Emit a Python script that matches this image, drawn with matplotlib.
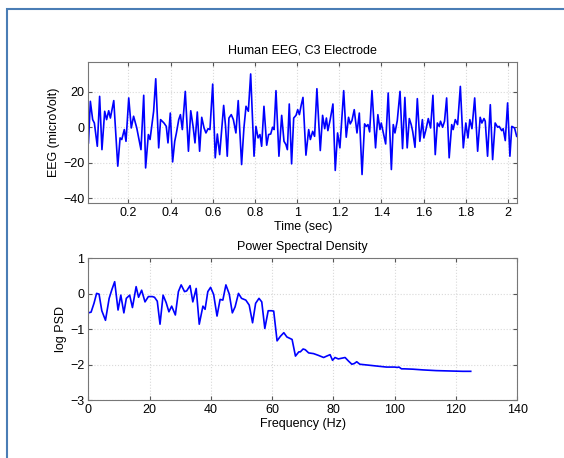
import matplotlib
matplotlib.use("Agg")
import matplotlib.pyplot as plt
from matplotlib.patches import Rectangle

# EEG trace, C3 electrode (time in s, amplitude in microvolt)
eeg_time = [
    0.011, 0.020, 0.031, 0.039, 0.053, 0.064, 0.075, 0.088, 0.097, 0.107,
    0.115, 0.131, 0.150, 0.161, 0.169, 0.181, 0.189, 0.202, 0.214, 0.225,
    0.240, 0.260, 0.273, 0.282, 0.295, 0.303, 0.320, 0.330, 0.344, 0.353,
    0.369, 0.380, 0.388, 0.399, 0.410, 0.420, 0.428, 0.439, 0.447, 0.456,
    0.470, 0.485, 0.496, 0.507, 0.516, 0.527, 0.538, 0.548, 0.559, 0.568,
    0.578, 0.587, 0.600, 0.612, 0.622, 0.633, 0.652, 0.661, 0.669, 0.677,
    0.688, 0.698, 0.710, 0.721, 0.737, 0.748, 0.758, 0.769, 0.780, 0.796,
    0.805, 0.815, 0.824, 0.832, 0.843, 0.856, 0.865, 0.875, 0.884, 0.891,
    0.900, 0.914, 0.927, 0.938, 0.947, 0.954, 0.963, 0.974, 0.984, 0.995,
    1.003, 1.011, 1.020, 1.028, 1.042, 1.055, 1.063, 1.074, 1.083, 1.094,
    1.110, 1.121, 1.131, 1.139, 1.146, 1.157, 1.170, 1.181, 1.192, 1.203,
    1.221, 1.233, 1.244, 1.252, 1.260, 1.271, 1.284, 1.295, 1.308, 1.320,
    1.328, 1.336, 1.344, 1.355, 1.372, 1.383, 1.393, 1.399, 1.409, 1.420,
    1.432, 1.447, 1.456, 1.464, 1.475, 1.488, 1.500, 1.511, 1.522, 1.532,
    1.541, 1.548, 1.559, 1.570, 1.582, 1.594, 1.601, 1.611, 1.622, 1.633,
    1.644, 1.655, 1.665, 1.674, 1.680, 1.690, 1.699, 1.709, 1.721, 1.733,
    1.740, 1.750, 1.761, 1.774, 1.788, 1.800, 1.810, 1.819, 1.829, 1.842,
    1.856, 1.868, 1.876, 1.886, 1.892, 1.903, 1.916, 1.927, 1.939, 1.951,
    1.958, 1.970, 1.977, 1.987, 1.998, 2.009, 2.018, 2.031, 2.041,
]
eeg_uv = [
    -8.8, 14.6, 4.3, 2.4, -10.7, 17.4, -12.6, 9.0, 4.3, 9.3,
    5.2, 15.0, -21.9, -6.0, -6.9, -1.3, -7.9, 16.5, -0.4, 6.2,
    -0.4, -12.6, 18.0, -22.9, -4.1, -6.9, 9.0, 27.3, -11.6, 4.3,
    2.4, 0.5, -8.8, 8.0, -19.5, -7.9, -3.2, 4.3, 7.1, -1.3,
    20.2, -13.5, 9.3, 0.5, -8.8, 8.6, -13.5, 5.6, -0.4, -3.2,
    -0.8, -1.3, 24.3, -17.2, -3.8, -15.4, 12.3, 0.5, -16.3, 5.2,
    7.1, 4.3, -3.2, 15.0, -21.0, -0.4, 11.8, 9.0, 30.0, -16.3,
    0.5, -6.0, -4.1, -10.7, 11.8, -10.1, -4.1, -3.8, 0.0, -1.3,
    20.6, -16.3, 6.7, -7.9, -9.7, -12.6, 13.1, -20.6, 5.2, 6.7,
    9.9, 7.1, 12.7, 16.8, -15.7, -1.3, -6.9, -2.3, -5.1, 21.7,
    -13.1, 6.7, -0.8, 5.2, -1.9, 4.3, 13.1, -24.3, -3.2, -11.6,
    20.6, -5.6, 5.6, 1.9, 3.7, 9.9, -3.2, 8.0, -26.6, 1.9,
    0.5, 1.5, -2.6, 20.6, -11.6, 7.1, -1.3, 2.4, -3.2, -9.4,
    19.3, -23.8, 1.5, -3.2, 3.7, 20.2, -12.0, 16.8, -11.6, 4.9,
    1.5, -2.3, -11.3, 16.1, -7.9, 4.3, -6.0, -1.3, 4.9, -0.4,
    18.0, -15.4, 2.4, 0.5, 3.4, 0.0, 3.4, 16.5, -17.2, 1.5,
    -1.3, 4.3, 1.5, 23.0, -11.6, 2.4, -6.0, 4.3, -0.8, 16.5,
    -13.5, 5.6, 2.4, 4.9, 3.4, -16.3, 12.7, -18.2, 2.4, 0.0,
    0.5, -1.9, -0.8, -7.5, 13.7, -16.3, 0.5, -0.4, -5.1,
]

# log power spectral density
psd_freq = [
    0.0, 0.9, 1.85, 2.7, 3.5, 4.4, 5.6, 6.8, 7.7, 8.6,
    9.7, 10.6, 11.6, 12.4, 13.5, 14.4, 15.6, 16.4, 17.4, 18.5,
    19.6, 20.9, 21.6, 22.5, 23.4, 24.4, 25.4, 26.3, 27.2, 28.4,
    29.4, 30.3, 31.4, 32.1, 33.2, 34.1, 35.2, 36.2, 37.4, 38.1,
    39.0, 39.9, 40.9, 42.0, 43.0, 43.9, 44.9, 46.0, 47.0, 47.9,
    49.0, 50.0, 51.4, 52.5, 53.6, 54.6, 55.7, 56.6, 57.6, 58.7,
    59.8, 60.5, 61.6, 62.7, 63.8, 64.8, 66.5, 67.6, 68.7, 69.2,
    70.1, 70.8, 71.9, 73.5, 75.1, 76.8, 77.8, 78.9, 79.7, 80.5,
    81.6, 82.7, 83.8, 84.9, 86.0, 86.8, 87.6, 88.6, 90.8, 94.0,
    97.3, 100.0, 100.8, 101.4, 102.2, 103.2, 106.0, 109.2, 113.5, 117.8,
    122.2, 124.8,
]
psd_log = [
    -0.54, -0.52, -0.27, 0.01, -0.01, -0.48, -0.75, -0.13, 0.12, 0.34,
    -0.46, -0.04, -0.54, -0.13, -0.04, -0.39, 0.20, -0.10, 0.10, -0.23,
    -0.08, -0.08, -0.10, -0.21, -0.86, -0.04, -0.25, -0.51, -0.35, -0.60,
    0.06, 0.25, 0.06, 0.08, 0.23, -0.23, 0.15, -0.86, -0.35, -0.44,
    0.06, 0.18, -0.02, -0.63, -0.16, -0.18, 0.25, -0.01, -0.54, -0.37,
    0.01, -0.13, -0.18, -0.32, -0.82, -0.27, -0.13, -0.23, -0.98, -0.48,
    -0.48, -0.49, -1.33, -1.20, -1.10, -1.22, -1.29, -1.76, -1.64, -1.64,
    -1.56, -1.58, -1.67, -1.69, -1.74, -1.80, -1.76, -1.72, -1.88, -1.80,
    -1.84, -1.82, -1.80, -1.90, -1.99, -1.97, -1.92, -1.99, -2.01, -2.04,
    -2.07, -2.07, -2.08, -2.07, -2.12, -2.12, -2.13, -2.15, -2.17, -2.18,
    -2.19, -2.19,
]

eeg_xticks = [0.2, 0.4, 0.6, 0.8, 1, 1.2, 1.4, 1.6, 1.8, 2]
eeg_yticks = [-40, -20, 0, 20]
psd_xticks = [0, 20, 40, 60, 80, 100, 120, 140]
psd_yticks = [-3, -2, -1, 0, 1]

plt.rcParams["font.family"] = ["Liberation Sans", "DejaVu Sans"]
plt.rcParams["font.size"] = 9

fig = plt.figure(figsize=(5.64, 4.58), dpi=100)
fig.patches.append(Rectangle((7 / 564, -0.1), 1.2, 1 - 9 / 458 + 0.1,
                             transform=fig.transFigure, fill=False,
                             edgecolor="#4a7db5", linewidth=1.5))


def style_axes(ax):
    ax.grid(True, color="#d9d9d9", linestyle=":", linewidth=0.8)
    ax.tick_params(direction="in", top=True, right=True, length=3,
                   color="#555555", labelsize=9, pad=3)
    for side in ax.spines.values():
        side.set_color("#777777")
        side.set_linewidth(0.8)


ax1 = fig.add_axes([0.1566, 0.5561, 0.7606, 0.3092])
ax1.plot(eeg_time, eeg_uv, color="#0000ff", linewidth=1.2)
ax1.set_xlim(0.0104, 2.044)
ax1.set_ylim(-42.8, 36.9)
ax1.set_xticks(eeg_xticks)
ax1.set_xticklabels([f"{v:g}" for v in eeg_xticks])
ax1.set_yticks(eeg_yticks)
ax1.set_title("Human EEG, C3 Electrode", fontsize=9, pad=6)
ax1.set_xlabel("Time (sec)", labelpad=1)
ax1.set_ylabel("EEG (microVolt)", labelpad=2)
style_axes(ax1)

ax2 = fig.add_axes([0.1566, 0.1266, 0.7606, 0.3094])
ax2.plot(psd_freq, psd_log, color="#0000ff", linewidth=1.2)
ax2.set_xlim(0, 140)
ax2.set_ylim(-3, 1)
ax2.set_xticks(psd_xticks)
ax2.set_yticks(psd_yticks)
ax2.set_title("Power Spectral Density", fontsize=9, pad=6)
ax2.set_xlabel("Frequency (Hz)", labelpad=1)
ax2.set_ylabel("log PSD", labelpad=2)
style_axes(ax2)

fig.savefig("out.png", dpi=100)
